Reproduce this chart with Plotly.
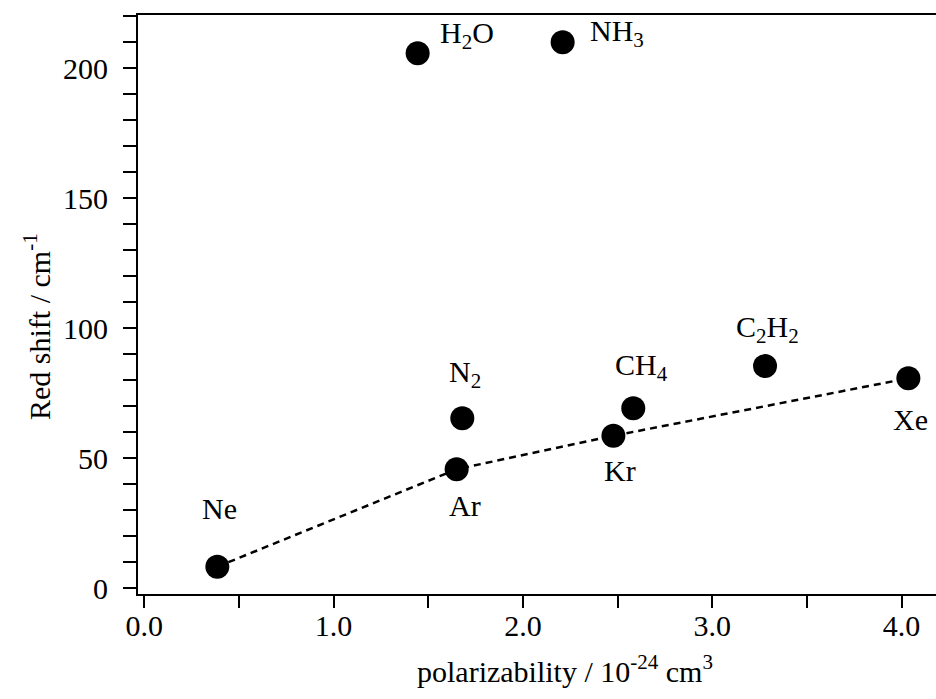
import plotly.graph_objects as go

# Data
molecules = ["Ne", "Ar", "N2", "Kr", "CH4", "C2H2", "Xe", "H2O", "NH3"]
label_text = ["Ne", "Ar", "N<sub>2</sub>", "Kr", "CH<sub>4</sub>", "C<sub>2</sub>H<sub>2</sub>",
              "Xe", "H<sub>2</sub>O", "NH<sub>3</sub>"]
polarizability = [0.386, 1.650, 1.680, 2.478, 2.583, 3.279, 4.036, 1.444, 2.210]
red_shift = [8.2, 45.7, 65.3, 58.6, 69.2, 85.4, 80.7, 205.8, 210.0]

# rare-gas trend line (Ne, Ar, Kr, Xe)
trend_names = ["Ne", "Ar", "Kr", "Xe"]
trend_x = [polarizability[molecules.index(n)] for n in trend_names]
trend_y = [red_shift[molecules.index(n)] for n in trend_names]

# label placement relative to each marker (pixels)
label_dx = [2, 8, 3, 7, 8, 2, 2, 20, 25]
label_dy = [58, -36, 44, -35, 41, 37, -41, 18, 9]
label_anchor = ["center", "center", "center", "center", "center", "center", "center", "left", "left"]

FONT = "Liberation Serif, Times New Roman, serif"

fig = go.Figure()
fig.add_trace(go.Scatter(
    x=trend_x, y=trend_y, mode="lines",
    line=dict(color="black", width=2.5, dash="7px,5px"),
    hoverinfo="skip", showlegend=False))
fig.add_trace(go.Scatter(
    x=polarizability, y=red_shift, mode="markers",
    marker=dict(color="black", size=24, line=dict(width=0)),
    text=molecules, showlegend=False))

for xv, yv, t, dx, dy, anc in zip(polarizability, red_shift, label_text, label_dx, label_dy, label_anchor):
    fig.add_annotation(x=xv, y=yv, text=t, showarrow=False, xshift=dx, yshift=dy,
                       xanchor=anc, yanchor="middle",
                       font=dict(family=FONT, size=30, color="black"))

fig.add_annotation(xref="paper", yref="paper", x=(565 - 138) / 798, y=-(648 - 594) / 579,
                   text="polarizability / 10<sup>-24</sup> cm<sup>3</sup>", showarrow=False,
                   xanchor="center", yanchor="top",
                   font=dict(family=FONT, size=30, color="black"))
fig.add_annotation(xref="paper", yref="paper", x=(37 - 138) / 798, y=(594 - 327) / 579,
                   text="Red shift / cm<sup>-1</sup>", showarrow=False, textangle=-90,
                   xanchor="center", yanchor="middle",
                   font=dict(family=FONT, size=30, color="black"))

fig.update_layout(
    width=936, height=699,
    margin=dict(l=138, r=0, t=15, b=105),
    paper_bgcolor="white", plot_bgcolor="white",
    font=dict(family=FONT, size=30, color="black"),
    xaxis=dict(range=[-0.033, 4.182], showgrid=False, zeroline=False,
               showline=True, linecolor="black", linewidth=2, mirror=True,
               ticks="outside", ticklen=12, tickwidth=1.5, tickcolor="black",
               tick0=0, dtick=1, tickformat=".1f", ticklabelstandoff=-8,
               minor=dict(tick0=0, dtick=0.5, ticks="outside", ticklen=12, tickwidth=1.5, tickcolor="black"),
               tickfont=dict(family=FONT, size=30, color="black")),
    yaxis=dict(range=[-2.3, 220.5], showgrid=False, zeroline=False,
               showline=True, linecolor="black", linewidth=2,
               ticks="outside", ticklen=13, tickwidth=1.5, tickcolor="black",
               tick0=0, dtick=50, ticklabelstandoff=9,
               minor=dict(tick0=0, dtick=10, ticks="outside", ticklen=13, tickwidth=1.5, tickcolor="black"),
               tickfont=dict(family=FONT, size=30, color="black")),
)

fig.write_html("out.html", config={"displayModeBar": False},
               post_script="document.body.style.margin='0px';document.body.style.overflow='hidden';")
